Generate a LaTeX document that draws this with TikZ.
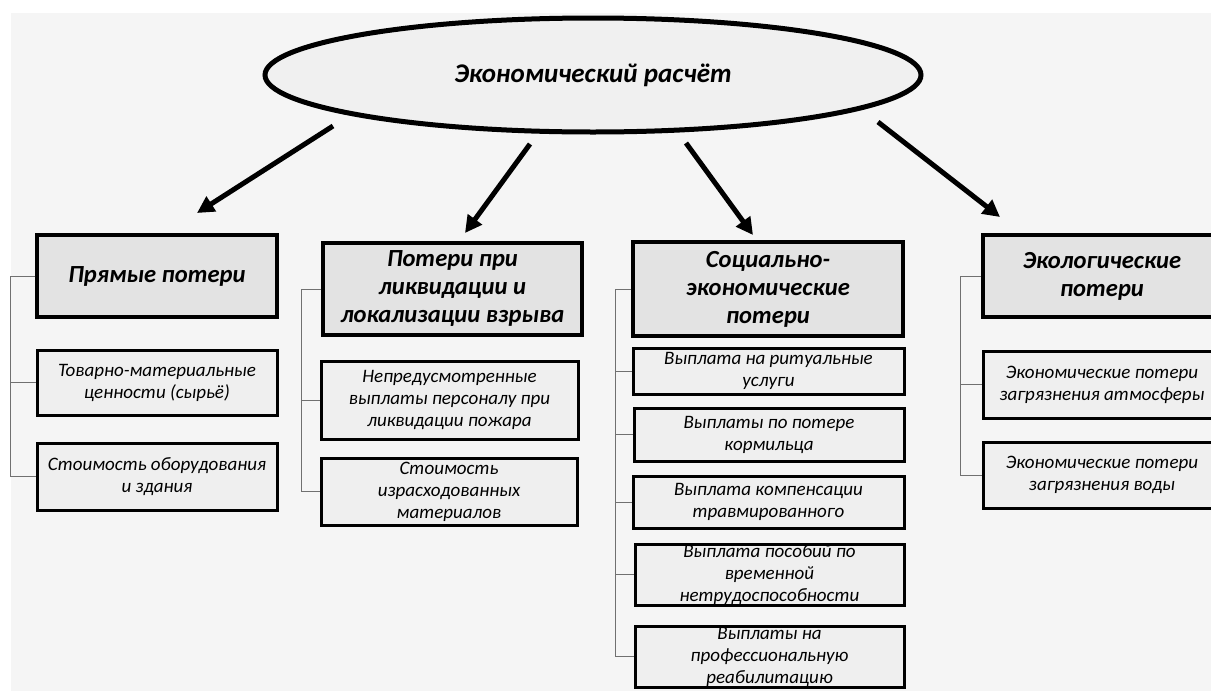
\documentclass[tikz,border=0pt]{standalone}
\usepackage{fontspec}
\setmainfont{Carlito}
\usetikzlibrary{arrows.meta,shapes.geometric}
\definecolor{bgc}{HTML}{F5F5F5}
\definecolor{hdrfill}{HTML}{E3E3E3}
\definecolor{subfill}{HTML}{EFEFEF}
\definecolor{ellfill}{HTML}{F0F0F0}
\definecolor{brkcol}{HTML}{707070}
\begin{document}
\begin{tikzpicture}[x=1pt,y=-1pt,
  hdr/.style={draw=black, line width=3.5pt, fill=hdrfill, rectangle, inner sep=0pt, align=center,
    font=\fontsize{24.6}{28}\selectfont\bfseries\itshape},
  sub/.style={draw=black, line width=3pt, fill=subfill, rectangle, inner sep=0pt, align=center,
    font=\fontsize{19}{22}\selectfont\itshape},
  arr/.style={line width=5pt, -{Triangle[length=17pt,width=17pt]}},
  brk/.style={draw=brkcol, line width=1pt}]
\clip (0,0) rectangle (1211,691);
\fill[white] (0,0) rectangle (1211,691);
\fill[bgc] (11,13) rectangle (1211,691);

\node[ellipse, draw=black, line width=5pt, fill=ellfill, minimum width=656pt, minimum height=114pt, inner sep=0pt,
  font=\fontsize{27}{32}\selectfont\bfseries\itshape] (ell) at (593,75) {Экономический расчёт};

% column 1
\node[hdr, minimum width=240pt, minimum height=82pt] (h1) at (157,276) {Прямые потери};
\node[sub, minimum width=240pt, minimum height=65pt] (s11) at (157,382.5) {Товарно-материальные\\ценности (сырьё)};
\node[sub, minimum width=240pt, minimum height=67pt] (s12) at (157,476.5) {Стоимость оборудования\\и здания};

% column 2
\node[hdr, minimum width=259pt, minimum height=92pt] (h2) at (452.5,289) {Потери при\\ликвидации и\\локализации взрыва};
\node[sub, minimum width=257pt, minimum height=78pt] (s21) at (449.5,400) {Непредусмотренные\\выплаты персоналу при\\ликвидации пожара};
\node[sub, minimum width=256pt, minimum height=67pt] (s22) at (449,491.5) {Стоимость\\израсходованных\\материалов};

% column 3
\node[hdr, minimum width=270pt, minimum height=94pt] (h3) at (768,289) {Социально-\\экономические\\потери};
\node[sub, minimum width=271pt, minimum height=46pt] (s31) at (768.5,371) {Выплата на ритуальные\\услуги};
\node[sub, minimum width=270pt, minimum height=53pt] (s32) at (769,434.5) {Выплаты по потере\\кормильца};
\node[sub, minimum width=271pt, minimum height=52pt] (s33) at (768.5,502) {Выплата компенсации\\травмированного};
\node[sub, minimum width=269pt, minimum height=61pt] (s34) at (769.5,574.5) {Выплата пособий по\\временной\\нетрудоспособности};
\node[sub, minimum width=269pt, minimum height=61pt] (s35) at (769.5,656.5) {Выплаты на\\профессиональную\\реабилитацию};

% column 4
\node[hdr, minimum width=238pt, minimum height=82pt] (h4) at (1102,276) {Экологические\\потери};
\node[sub, minimum width=238pt, minimum height=67pt] (s41) at (1102,384.5) {Экономические потери\\загрязнения атмосферы};
\node[sub, minimum width=238pt, minimum height=66pt] (s42) at (1102,475) {Экономические потери\\загрязнения воды};

% arrows
\coordinate (a1s) at (333,126); \coordinate (a1e) at (197,213);
\coordinate (a2s) at (530,144); \coordinate (a2e) at (465,233);
\coordinate (a3s) at (686,143); \coordinate (a3e) at (753,235);
\coordinate (a4s) at (878,122); \coordinate (a4e) at (1000,217);
\draw[arr] (a1s) -- (a1e);
\draw[arr] (a2s) -- (a2e);
\draw[arr] (a3s) -- (a3e);
\draw[arr] (a4s) -- (a4e);

% brackets
\draw[brk] (h1.west) -| ([xshift=-25pt]s12.west) -- (s12.west);
\draw[brk] (s11.west) -- ++(-25,0);

\draw[brk] (h2.west) -| ([xshift=-18pt]s22.west) -- (s22.west);
\draw[brk] (s21.west) -- ++(-18,0);

\draw[brk] (h3.west) -| ([xshift=-18pt]s35.west) -- (s35.west);
\draw[brk] (s31.west) -- ++(-17,0);
\draw[brk] (s32.west) -- ++(-18,0);
\draw[brk] (s33.west) -- ++(-17,0);
\draw[brk] (s34.west) -- ++(-19,0);

\draw[brk] (h4.west) -| ([xshift=-21pt]s42.west) -- (s42.west);
\draw[brk] (s41.west) -- ++(-21,0);
\end{tikzpicture}
\end{document}
